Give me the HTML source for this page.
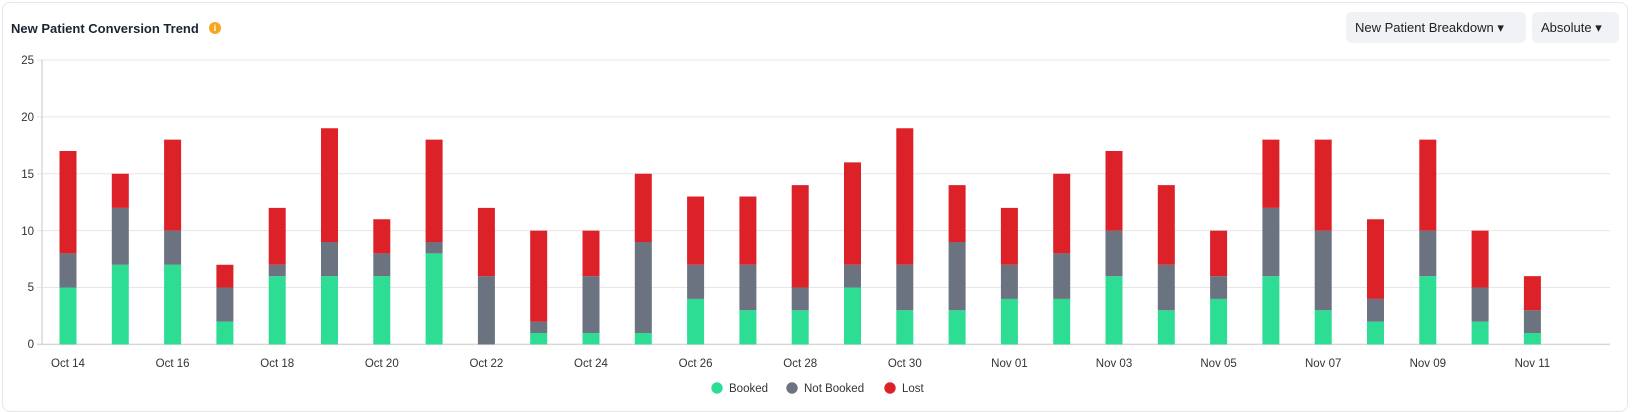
<!DOCTYPE html>
<html><head><meta charset="utf-8"><style>
body{margin:0;width:1634px;height:402px;background:#fff;font-family:"Liberation Sans",sans-serif;overflow:hidden}
.card{position:absolute;left:2px;top:2px;width:1626px;height:410px;border:1px solid #e3e7ec;border-radius:8px;box-sizing:border-box}
.title{position:absolute;left:11px;top:21px;font-size:13px;font-weight:bold;color:#1a2433}
.info{position:absolute;left:209px;top:22px;width:12px;height:12px;border-radius:50%;background:#f5a623;color:#fff;font-size:9px;text-align:center;line-height:12px;font-weight:bold}
.btn{position:absolute;top:12px;height:31px;background:#f0f2f5;border-radius:5px;font-size:13px;color:#222;line-height:31px;padding-left:9px;box-sizing:border-box}
</style></head><body>
<div class="card"></div>
<div class="title">New Patient Conversion Trend</div>
<div class="info">i</div>
<div class="btn" style="left:1346px;width:180px">New Patient Breakdown ▾</div>
<div class="btn" style="left:1532px;width:87px">Absolute ▾</div>
<svg width="1634" height="402" style="position:absolute;left:0;top:0" font-family="Liberation Sans, sans-serif" font-size="11.5" fill="#333">
<g stroke="#e6e6e6" stroke-width="1">
<line x1="37" x2="1610" y1="60" y2="60"/><line x1="37" x2="1610" y1="116.9" y2="116.9"/><line x1="37" x2="1610" y1="173.8" y2="173.8"/><line x1="37" x2="1610" y1="230.6" y2="230.6"/><line x1="37" x2="1610" y1="287.5" y2="287.5"/><line x1="37" x2="1610" y1="344.4" y2="344.4" stroke="#d8d8d8" stroke-width="1.5"/>
<line x1="42" x2="42" y1="60" y2="344.4" stroke="#d8d8d8" stroke-width="1.5"/>
</g>
<g text-anchor="end"><text x="34" y="64">25</text><text x="34" y="121">20</text><text x="34" y="178">15</text><text x="34" y="235">10</text><text x="34" y="291">5</text><text x="34" y="348">0</text></g>
<g id="bars"></g>
<g text-anchor="middle">
<text x="68" y="367">Oct 14</text><text x="172.6" y="367">Oct 16</text><text x="277.2" y="367">Oct 18</text><text x="381.8" y="367">Oct 20</text><text x="486.4" y="367">Oct 22</text><text x="591" y="367">Oct 24</text><text x="695.6" y="367">Oct 26</text><text x="800.2" y="367">Oct 28</text><text x="904.8" y="367">Oct 30</text><text x="1009.4" y="367">Nov 01</text><text x="1114" y="367">Nov 03</text><text x="1218.6" y="367">Nov 05</text><text x="1323.2" y="367">Nov 07</text><text x="1427.8" y="367">Nov 09</text><text x="1532.4" y="367">Nov 11</text>
</g>
<circle cx="717" cy="388" r="5.7" fill="#2edd94"/><text x="729" y="392">Booked</text>
<circle cx="792" cy="388" r="5.7" fill="#6b7280"/><text x="804" y="392">Not Booked</text>
<circle cx="890" cy="388" r="5.7" fill="#dc2128"/><text x="902" y="392">Lost</text>
</svg>
<script>
var d=[[5,8,17],[7,12,15],[7,10,18],[2,5,7],[6,7,12],[6,9,19],[6,8,11],[8,9,18],[0,6,12],[1,2,10],[1,6,10],[1,9,15],[4,7,13],[3,7,13],[3,5,14],[5,7,16],[3,7,19],[3,9,14],[4,7,12],[4,8,15],[6,10,17],[3,7,14],[4,6,10],[6,12,18],[3,10,18],[2,4,11],[6,10,18],[2,5,10],[1,3,6]];
var s='',u=11.376,b=344.4;
d.forEach(function(v,i){var x=68+i*52.3-8.5;
function r(a,c,col){if(c>a)s+='<rect x="'+x+'" y="'+(b-c*u)+'" width="17" height="'+((c-a)*u)+'" fill="'+col+'"/>';}
r(0,v[0],'#2edd94');r(v[0],v[1],'#6b7280');r(v[1],v[2],'#dc2128');});
document.getElementById('bars').innerHTML=s;
</script>
</body></html>
